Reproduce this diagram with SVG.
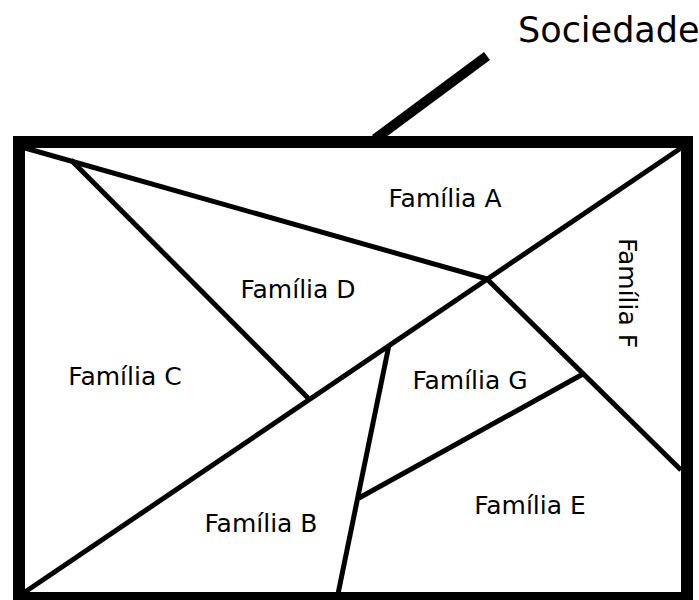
<svg xmlns="http://www.w3.org/2000/svg" width="699" height="600" viewBox="0 0 699 600">
<style>
.frame{fill:none;stroke:#000;stroke-width:12}
.div{fill:none;stroke:#000;stroke-width:5;stroke-linecap:butt}
.ptr{fill:none;stroke:#000;stroke-width:10}
.lbl{font-family:"DejaVu Sans",Verdana,sans-serif;font-size:25px;fill:#000;text-anchor:middle}
.title{font-family:"DejaVu Sans",Verdana,sans-serif;font-size:35px;fill:#000}
</style>
<rect width="699" height="600" fill="#fff"/>
<g id="frame"><rect class="frame" x="19" y="142" width="668" height="456"/></g>
<g id="connectors">
<line class="ptr" x1="375" y1="139" x2="487" y2="56"/>
<line class="div" x1="25" y1="148" x2="487" y2="279"/>
<line class="div" x1="71" y1="160" x2="308" y2="398"/>
<line class="div" x1="25" y1="592" x2="681" y2="148"/>
<line class="div" x1="487" y1="279" x2="681" y2="470"/>
<line class="div" x1="389" y1="345" x2="338" y2="594"/>
<line class="div" x1="359" y1="498" x2="583" y2="374"/>
</g>
<g id="sociedade"><text class="title" x="518" y="42">Sociedade</text></g>
<g id="familia-a"><text class="lbl" x="445" y="207">Família A</text></g>
<g id="familia-d"><text class="lbl" x="298" y="298">Família D</text></g>
<g id="familia-c"><text class="lbl" x="125" y="385">Família C</text></g>
<g id="familia-g"><text class="lbl" x="470" y="389">Família G</text></g>
<g id="familia-e"><text class="lbl" x="530" y="514">Família E</text></g>
<g id="familia-b"><text class="lbl" x="261" y="532">Família B</text></g>
<g id="familia-f"><text class="lbl" transform="translate(619,293) rotate(90)" x="0" y="0">Família F</text></g>
</svg>
